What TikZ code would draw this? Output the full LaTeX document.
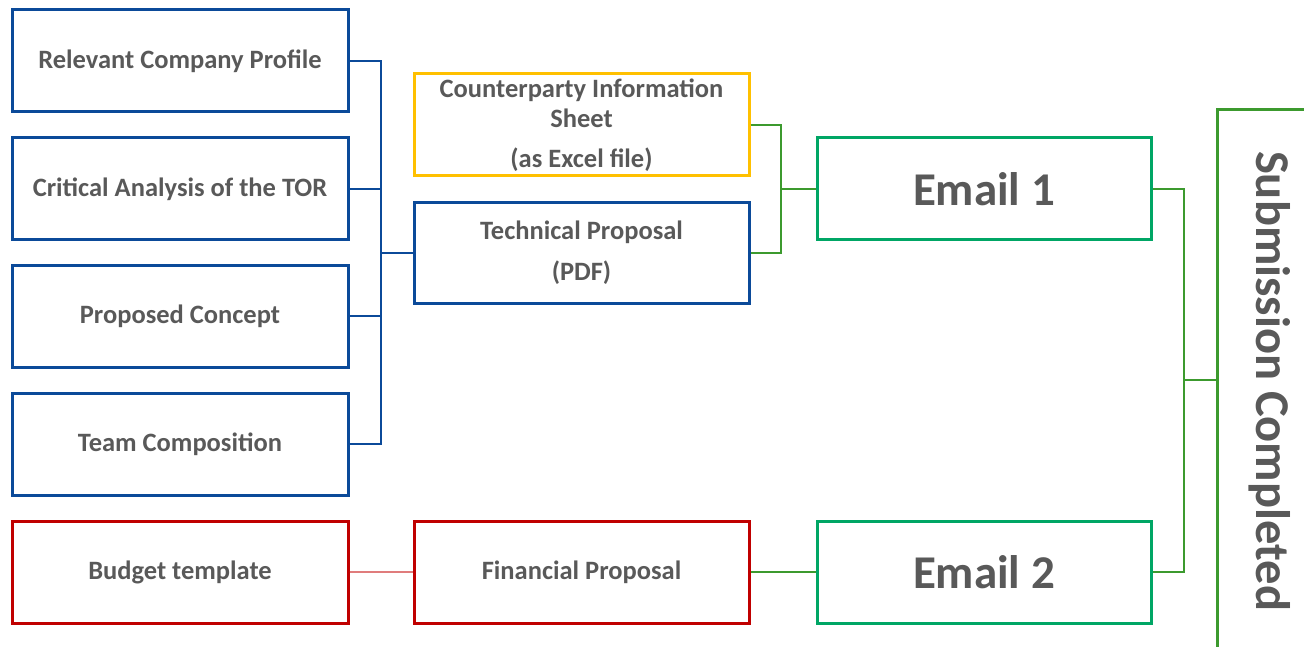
\documentclass[tikz,border=0pt]{standalone}
\usepackage{fontspec}
\setmainfont{Carlito}
\definecolor{bl}{HTML}{0B4A99}
\definecolor{yl}{HTML}{FFC000}
\definecolor{gb}{HTML}{00A665}
\definecolor{gc}{HTML}{3C9A2E}
\definecolor{rd}{HTML}{C00000}
\definecolor{rl}{HTML}{E07C7C}
\definecolor{tx}{HTML}{595959}
\begin{document}
\begin{tikzpicture}[x=1pt,y=-1pt,
  box/.style={draw, line width=3pt, text=tx, font=\bfseries\fontsize{26.5}{29}\selectfont,
    align=center, inner sep=0pt, minimum height=102pt},
  lbox/.style={box, minimum width=336pt},
  mbox/.style={box, minimum width=335pt},
  ebox/.style={box, minimum width=334pt, draw=gb, font=\bfseries\fontsize{47}{50}\selectfont},
  bconn/.style={draw=bl, line width=2pt},
  gconn/.style={draw=gc, line width=2.4pt},
  rconn/.style={draw=rl, line width=2pt}]
\useasboundingbox (0,0) rectangle (1304,647);
% left column
\node[lbox, draw=bl] (r1) at (180,61) {Relevant Company Profile};
\node[lbox, draw=bl] (r2) at (180,189) {Critical Analysis of the TOR};
\node[lbox, draw=bl] (r3) at (180,316) {Proposed Concept};
\node[lbox, draw=bl] (r4) at (180,444) {Team Composition};
\node[lbox, draw=rd] (bt) at (180,572) {Budget template};
% middle column
\node[mbox, draw=yl] (cp) at (581.5,125) {};
\node[text=tx, font=\bfseries\fontsize{26.5}{29.5}\selectfont, align=center, anchor=north, inner sep=0pt] (cpt) at (581.5,79) {Counterparty Information\\Sheet\\[11pt](as Excel file)};
\node[mbox, draw=bl, minimum height=100pt] (tp) at (581.5,253) {Technical Proposal\\[12pt](PDF)};
\node[mbox, draw=rd] (fp) at (581.5,572) {Financial Proposal};
% emails
\node[ebox] (e1) at (984,189) {Email 1};
\node[ebox] (e2) at (984,572) {Email 2};
% submission
\begin{scope}
\clip (0,0) rectangle (1304,647);
\node[draw=gc, line width=3pt, rotate=-90, minimum width=542pt, minimum height=106pt,
  text=tx, font=\bfseries\fontsize{48.5}{52}\selectfont, inner sep=0pt] (sub) at (1270,381) {Submission Completed};
\end{scope}
% connectors
\coordinate (bx) at (381,0);
\draw[bconn] (r1.east) -| (bx |- r4.east) -- (r4.east);
\draw[bconn] (r2.east) -- (bx |- r2.east);
\draw[bconn] (r3.east) -- (bx |- r3.east);
\draw[bconn] (bx |- tp.west) -- (tp.west);
\coordinate (gx) at (781,0);
\draw[gconn] (cp.east) -| (gx |- tp.east) -- (tp.east);
\draw[gconn] (gx |- e1.west) -- (e1.west);
\coordinate (ex) at (1184,0);
\draw[gconn] (e1.east) -| (ex |- e2.east) -- (e2.east);
\draw[gconn] (ex |- 0,380) -- (sub.south |- 0,380);
\draw[rconn] (bt.east) -- (fp.west);
\draw[gconn] (fp.east) -- (e2.west);
\end{tikzpicture}
\end{document}
